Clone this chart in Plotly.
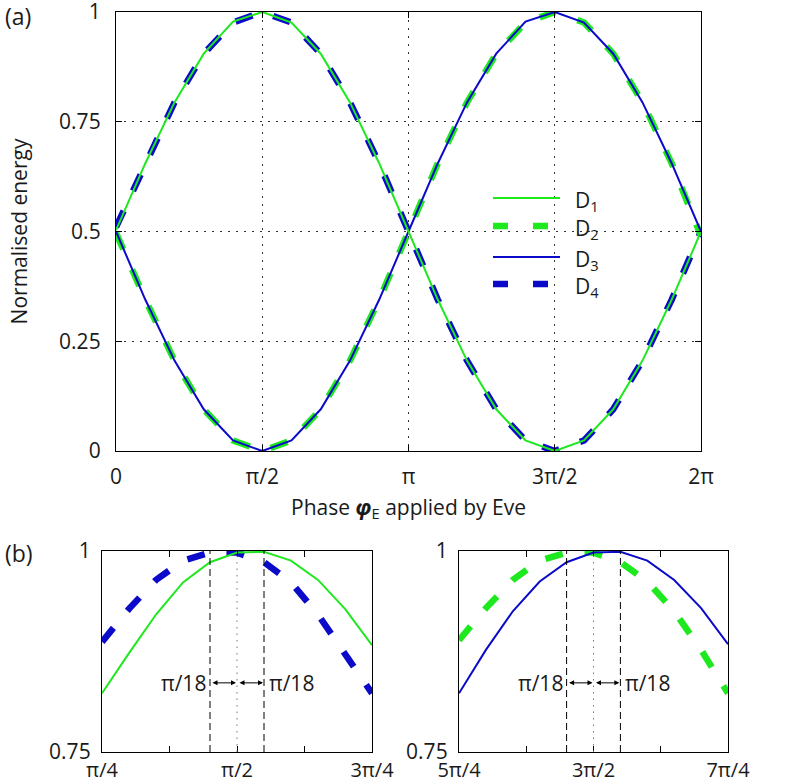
import plotly.graph_objects as go

# ---------------- data ----------------
# panel (a): phase in degrees, 18 degree steps
phase_a = [0, 18, 36, 54, 72, 90, 108, 126, 144, 162, 180,
           198, 216, 234, 252, 270, 288, 306, 324, 342, 360]
D1_a = [0.503, 0.655, 0.794, 0.905, 0.978, 1.0, 0.976, 0.905, 0.794, 0.655, 0.5,
        0.345, 0.206, 0.095, 0.024, 0.0, 0.024, 0.095, 0.206, 0.345, 0.5]
D2_a = [0.497, 0.345, 0.206, 0.095, 0.024, 0.0, 0.024, 0.095, 0.206, 0.345, 0.5,
        0.655, 0.794, 0.905, 0.976, 1.0, 0.976, 0.905, 0.794, 0.655, 0.49]
D3_a = [0.5, 0.345, 0.206, 0.095, 0.024, 0.0, 0.024, 0.095, 0.206, 0.345, 0.5,
        0.655, 0.794, 0.905, 0.978, 1.0, 0.976, 0.905, 0.794, 0.655, 0.5]
D4_a = [0.51, 0.655, 0.794, 0.905, 0.976, 1.0, 0.976, 0.905, 0.794, 0.655, 0.5,
        0.345, 0.206, 0.095, 0.024, 0.0, 0.024, 0.095, 0.206, 0.345, 0.5]

# panel (b) left: around pi/2, 9 degree steps
phase_bl = [45, 54, 63, 72, 81, 90, 99, 108, 117, 126, 135]
D1_bl = [0.823, 0.873, 0.921, 0.961, 0.986, 0.998, 0.999, 0.988, 0.964, 0.928, 0.883]
D4_bl = [0.887, 0.928, 0.964, 0.988, 0.998, 0.998, 0.986, 0.961, 0.921, 0.873, 0.823]

# panel (b) right: around 3pi/2
phase_br = [225, 234, 243, 252, 261, 270, 279, 288, 297, 306, 315]
D3_br = [0.823, 0.877, 0.925, 0.962, 0.986, 0.998, 0.999, 0.988, 0.964, 0.929, 0.884]
D2_br = [0.889, 0.929, 0.964, 0.988, 0.998, 0.998, 0.986, 0.962, 0.925, 0.877, 0.823]

ticks_a = [0, 90, 180, 270, 360]
ticktext_a = ["0", "π/2", "π", "3π/2", "2π"]
yticks_a = [0, 0.25, 0.5, 0.75, 1]
yticktext_a = ["0", "0.25", "0.5", "0.75", "1"]
ticks_bl = [45, 67.5, 90, 112.5, 135]
ticktext_bl = ["π/4", "", "π/2", "", "3π/4"]
ticks_br = [225, 247.5, 270, 292.5, 315]
ticktext_br = ["5π/4", "", "3π/2", "", "7π/4"]
yticks_b = [0.75, 1]
yticktext_b = ["0.75", "1"]
legend_names = ["D<sub>1</sub>", "D<sub>2</sub>", "D<sub>3</sub>", "D<sub>4</sub>"]

# ---------------- style ----------------
W, H = 790, 782
GREEN = "#1ee81e"
BLUE = "#0a0ac8"
FONT = "Open Sans"
TXT = "#1a1a1a"
THIN = 2
THICK = 6.5
DASH = "18px,22px"


def px(x):
    return x / W


def py(y):
    return 1 - y / H


fig = go.Figure()

solid = dict(width=THIN)
dashed = dict(width=THICK, dash=DASH)

# panel (a)
fig.add_trace(go.Scatter(x=phase_a, y=D4_a, mode="lines", line=dict(color=BLUE, **dashed),
                         name="D4", xaxis="x", yaxis="y", showlegend=False))
fig.add_trace(go.Scatter(x=phase_a, y=D2_a, mode="lines", line=dict(color=GREEN, **dashed),
                         name="D2", xaxis="x", yaxis="y", showlegend=False))
fig.add_trace(go.Scatter(x=phase_a, y=D3_a, mode="lines", line=dict(color=BLUE, **solid),
                         name="D3", xaxis="x", yaxis="y", showlegend=False))
fig.add_trace(go.Scatter(x=phase_a, y=D1_a, mode="lines", line=dict(color=GREEN, **solid),
                         name="D1", xaxis="x", yaxis="y", showlegend=False))

# panel (b) left
fig.add_trace(go.Scatter(x=phase_bl, y=D4_bl, mode="lines", line=dict(color=BLUE, **dashed),
                         name="D4", xaxis="x2", yaxis="y2", showlegend=False))
fig.add_trace(go.Scatter(x=phase_bl, y=D1_bl, mode="lines", line=dict(color=GREEN, **solid),
                         name="D1", xaxis="x2", yaxis="y2", showlegend=False))
# panel (b) right
fig.add_trace(go.Scatter(x=phase_br, y=D2_br, mode="lines", line=dict(color=GREEN, **dashed),
                         name="D2", xaxis="x3", yaxis="y3", showlegend=False))
fig.add_trace(go.Scatter(x=phase_br, y=D3_br, mode="lines", line=dict(color=BLUE, **solid),
                         name="D3", xaxis="x3", yaxis="y3", showlegend=False))

tickfont = dict(family=FONT, size=21, color=TXT)
axis_common = dict(showline=True, linecolor="black", linewidth=1.3, mirror="ticks",
                   ticks="inside", ticklen=6, tickcolor="black", zeroline=False,
                   automargin=False, ticklabeloverflow="allow")
grid = dict(showgrid=True, gridcolor="#333", gridwidth=1, griddash="1.5px,6.5px")
tickfont_bx = dict(family=FONT, size=20, color=TXT)

fig.update_layout(
    width=W, height=H,
    margin=dict(l=0, r=0, t=0, b=0),
    paper_bgcolor="white", plot_bgcolor="white",
    font=dict(family=FONT, size=21, color=TXT),
    showlegend=False,
    xaxis=dict(domain=[px(116), px(701)], range=[0, 360], anchor="y",
               tickvals=ticks_a, ticktext=ticktext_a, ticklabelstandoff=7, tickfont=tickfont,
               title=dict(text="Phase <b><i>φ</i></b><sub>E</sub> applied by Eve",
                          font=dict(family=FONT, size=21, color=TXT), standoff=10),
               **axis_common, **grid),
    yaxis=dict(domain=[py(451), py(12)], range=[0, 1], anchor="x",
               tickvals=yticks_a, ticktext=yticktext_a, ticklabelstandoff=10, tickfont=tickfont,
               title=dict(text="Normalised energy",
                          font=dict(family=FONT, size=21, color=TXT), standoff=25),
               **axis_common, **grid),
    xaxis2=dict(domain=[px(102), px(372)], range=[45, 135], anchor="y2",
                tickvals=ticks_bl, ticktext=ticktext_bl, ticklabelstandoff=0, tickfont=tickfont_bx,
                showgrid=False, **axis_common),
    yaxis2=dict(domain=[py(752), py(551)], range=[0.75, 1], anchor="x2",
                tickvals=yticks_b, ticktext=yticktext_b, ticklabelstandoff=6, tickfont=tickfont,
                showgrid=False, **axis_common),
    xaxis3=dict(domain=[px(459), px(728)], range=[225, 315], anchor="y3",
                tickvals=ticks_br, ticktext=ticktext_br, ticklabelstandoff=0, tickfont=tickfont_bx,
                showgrid=False, **axis_common),
    yaxis3=dict(domain=[py(752), py(551)], range=[0.75, 1], anchor="x3",
                tickvals=yticks_b, ticktext=yticktext_b, ticklabelstandoff=6, tickfont=tickfont,
                showgrid=False, **axis_common),
)

shapes = []
annotations = []

# manual legend (panel a)
leg_rows = [(198, GREEN, solid), (226, GREEN, dict(width=THICK, dash="15px,25px")),
            (257, BLUE, solid), (284, BLUE, dict(width=THICK, dash="15px,25px"))]
for (yy, col, st), name in zip(leg_rows, legend_names):
    shapes.append(dict(type="line", xref="paper", yref="paper",
                       x0=px(493), x1=px(560), y0=py(yy), y1=py(yy),
                       line=dict(color=col, **st)))
    annotations.append(dict(text=name, xref="paper", yref="paper", x=px(573), y=py(yy + 3),
                            xanchor="left", yanchor="middle", showarrow=False,
                            font=dict(family=FONT, size=21, color=TXT)))

# panel (b) markers: centre dotted line and +/- offset dashed lines
for xr, yr, centre, xs in [("x2", "y2", 90, phase_bl), ("x3", "y3", 270, phase_br)]:
    shapes.append(dict(type="line", xref=xr, yref=yr, x0=centre, x1=centre, y0=0.75, y1=1,
                       line=dict(color="#777", width=1, dash="1.5px,5px")))
    for xv in (xs[4], xs[6]):
        shapes.append(dict(type="line", xref=xr, yref=yr, x0=xv, x1=xv, y0=0.75, y1=1,
                           line=dict(color="black", width=1, dash="7px,4px")))
    yarrow = 0.836
    for a, b in ((xs[4], centre), (centre, xs[6])):
        annotations.append(dict(x=b, y=yarrow, ax=a, ay=yarrow, xref=xr, yref=yr,
                                axref=xr, ayref=yr, text="", showarrow=True,
                                arrowhead=2, arrowside="end+start", arrowsize=1,
                                arrowwidth=1, arrowcolor="black", standoff=1, startstandoff=1))
    annotations.append(dict(text="π/18", x=xs[4], y=yarrow, xref=xr, yref=yr,
                            xanchor="right", yanchor="middle", xshift=-2, showarrow=False,
                            font=dict(family=FONT, size=21, color=TXT)))
    annotations.append(dict(text="π/18", x=xs[6], y=yarrow, xref=xr, yref=yr,
                            xanchor="left", yanchor="middle", xshift=3, showarrow=False,
                            font=dict(family=FONT, size=21, color=TXT)))

# panel labels
annotations.append(dict(text="(a)", xref="paper", yref="paper", x=px(3), y=py(16),
                        xanchor="left", yanchor="middle", showarrow=False,
                        font=dict(family=FONT, size=23, color=TXT)))
annotations.append(dict(text="(b)", xref="paper", yref="paper", x=px(3), y=py(553),
                        xanchor="left", yanchor="middle", showarrow=False,
                        font=dict(family=FONT, size=23, color=TXT)))

fig.update_layout(shapes=shapes, annotations=annotations)

fig.write_html("out.html", config={"displayModeBar": False},
               post_script="document.body.style.margin='0';document.body.style.overflow='hidden';")
